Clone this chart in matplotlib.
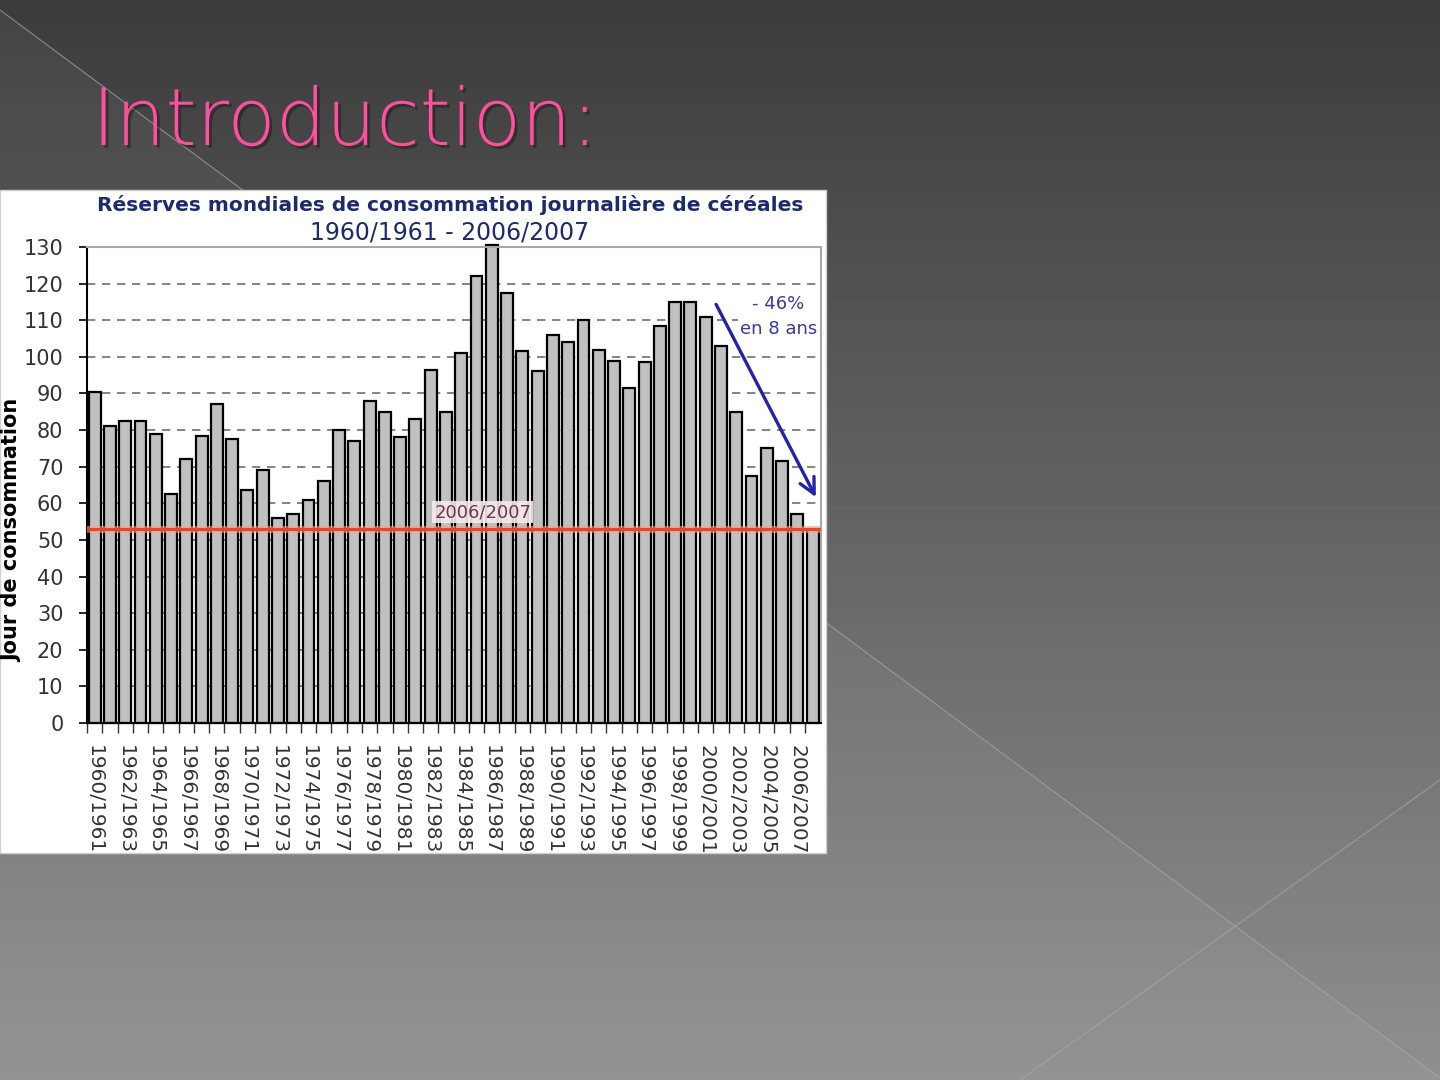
import numpy as np
import matplotlib
matplotlib.use('Agg')
import matplotlib.pyplot as plt
import matplotlib.patheffects as pe
from matplotlib.patches import Rectangle, Polygon

# Data: days of world cereal consumption held in stock
seasons = [str(y) + '/' + str(y + 1) for y in range(1960, 2008)]
reserves = [90.5, 81, 82.5, 82.5, 79, 62.5, 72, 78.5, 87, 77.5,
            63.5, 69, 56, 57, 61, 66, 80, 77, 88, 85,
            78, 83, 96.5, 85, 101, 122, 130.5, 117.5, 101.5, 96,
            106, 104, 110, 102, 99, 91.5, 98.5, 108.5, 115, 115,
            111, 103, 85, 67.5, 75, 71.5, 57, 53]
tick_labels = seasons[::2]
ref_level = 53
ref_label = '2006/2007'
y_ticks = list(range(0, 140, 10))

W, H = 1440, 1080
fig = plt.figure(figsize=(W / 100, H / 100), dpi=100)

# slide background
bg = fig.add_axes([0, 0, 1, 1])
bg.set_xlim(0, W)
bg.set_ylim(H, 0)
bg.axis('off')
grad = np.linspace(0.235, 0.56, 256).reshape(-1, 1)
bg.imshow(grad, cmap='gray', vmin=0, vmax=1, extent=[0, W, H, 0], aspect='auto', zorder=0)
# lighter triangle under the diagonal
bg.add_patch(Polygon([[0, 10], [0, H], [1440, H], [1440, 1078]], closed=True,
                     facecolor='white', alpha=0.045, edgecolor='none', zorder=1))
bg.plot([0, 1440], [10, 1078], color='#a8a8a8', lw=0.8, alpha=0.7, zorder=2)
bg.plot([1440, 1020], [780, 1080], color='#a8a8a8', lw=0.8, alpha=0.7, zorder=2)
bg.text(92, 145, 'Introduction:', fontsize=57, color='#ff4f9e', family='DejaVu Sans',
        fontweight='light', va='baseline', ha='left', zorder=3,
        path_effects=[pe.withSimplePatchShadow(offset=(2, -2), shadow_rgbFace='#1a1a1a',
                                               alpha=0.5)])

# white chart panel
bg.add_patch(Rectangle((0, 190), 826, 663, facecolor='white', edgecolor='#d0d0d0',
                       lw=1, zorder=5))
bg.text(450, 205, 'Réserves mondiales de consommation journalière de céréales',
        fontsize=14.5, fontweight='bold', color='#1c2a6e', ha='center', va='center',
        zorder=6)
bg.text(450, 232, '1960/1961 - 2006/2007', fontsize=17, color='#1c2a6e',
        ha='center', va='center', zorder=6)
bg.text(12, 530, 'Jour de consommation', fontsize=15, fontweight='bold', color='black',
        rotation=90, ha='center', va='center', zorder=6)

# chart axes
ax = fig.add_axes([87 / W, 1 - 723 / H, (821 - 87) / W, (723 - 247) / H])
ax.set_facecolor('white')
x = np.arange(len(reserves))
ax.bar(x, reserves, width=0.78, color='#c0c0c0', edgecolor='black', linewidth=1.6,
       zorder=2, clip_on=False)
ax.set_xlim(-0.45, len(reserves) - 0.45)
ax.set_ylim(0, 130)
ax.set_yticks(y_ticks)
ax.tick_params(axis='y', labelsize=15, labelcolor='#333333', length=6, width=1.2,
               direction='out', pad=11)
for g in y_ticks[1:-1]:
    ax.axhline(g, color='#707070', lw=1.2, ls=(0, (5, 4)), zorder=1)

ax.set_xticks(x[::2])
ax.set_xticklabels(tick_labels, rotation=-90, fontsize=14.5, color='#333333')
ax.tick_params(axis='x', length=0, pad=16)
ax.set_xticks(x - 0.5, minor=True)
ax.tick_params(axis='x', which='minor', length=7, width=1, color='#333333')

for s in ['left', 'bottom']:
    ax.spines[s].set_color('black')
    ax.spines[s].set_linewidth(1.5)
for s in ['top', 'right']:
    ax.spines[s].set_color('#a8a8a8')
    ax.spines[s].set_linewidth(1.5)

# reference line
ax.axhline(ref_level, color='#f4a08a', lw=5, zorder=3, alpha=0.6)
ax.axhline(ref_level, color='#e0472c', lw=2.2, zorder=4)
ax.text(25.4, 57.6, ref_label, fontsize=13, color='#6b3a44', ha='center', va='center',
        zorder=5, bbox=dict(facecolor='#f6eaec', edgecolor='none', pad=1.5, alpha=0.9))

# trend arrow
ax.annotate('', xy=(47.3, 61), xytext=(40.6, 115),
            arrowprops=dict(arrowstyle='->', color='#2222aa', lw=2.4,
                            mutation_scale=28), zorder=6)
ax.text(44.75, 114.5, '- 46%', fontsize=13, color='#3a3a9a', ha='center', va='center',
        zorder=5, bbox=dict(facecolor='white', edgecolor='none', pad=1))
ax.text(44.75, 107.5, 'en 8 ans', fontsize=13, color='#3a3a9a', ha='center', va='center',
        zorder=5, bbox=dict(facecolor='white', edgecolor='none', pad=1))

fig.savefig('out.png', dpi=100)
